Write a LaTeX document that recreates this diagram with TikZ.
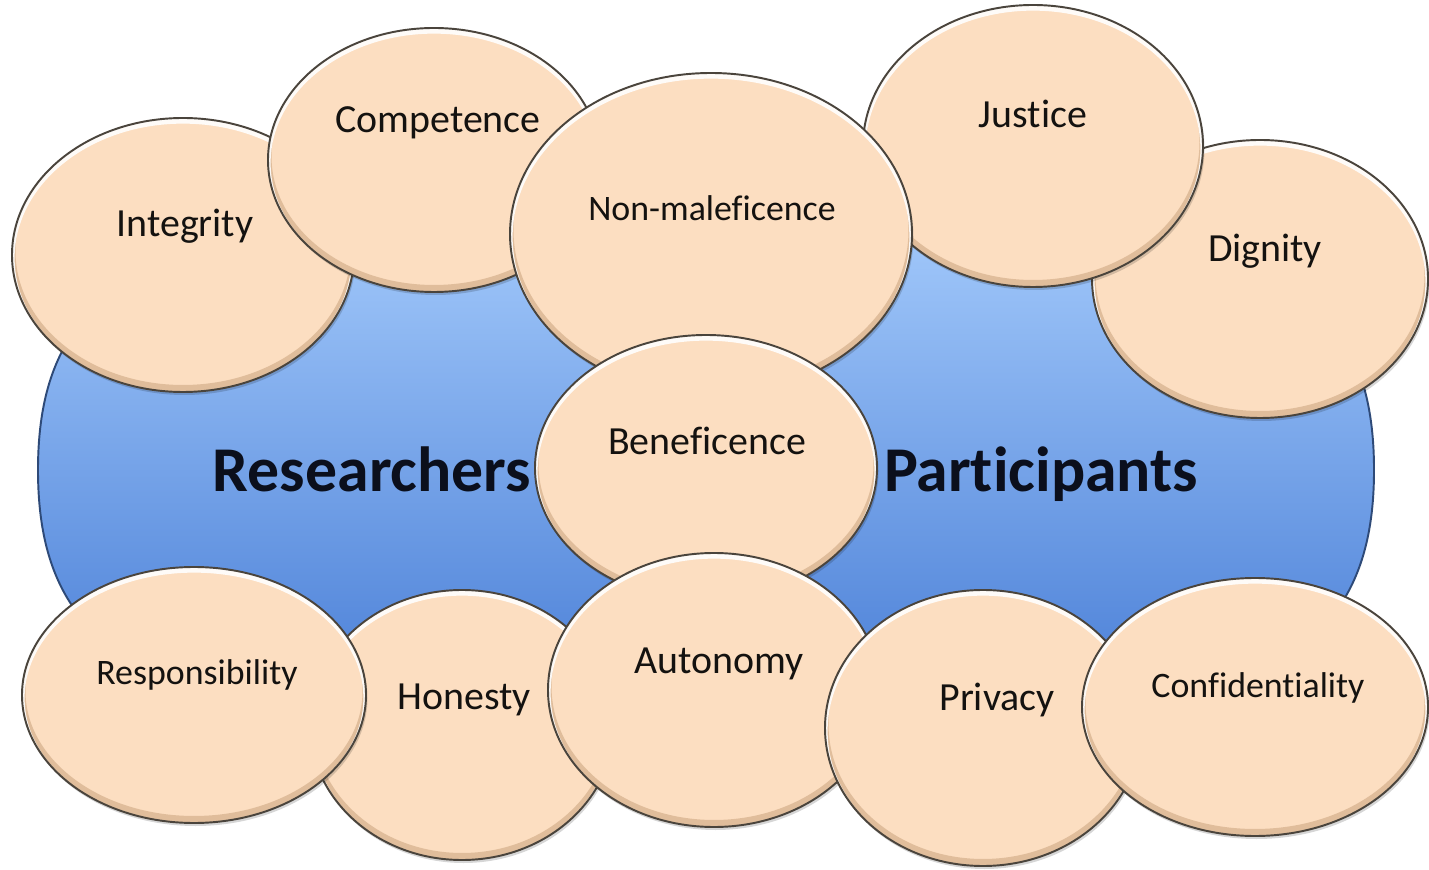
\documentclass[tikz,border=0pt]{standalone}
\usepackage{fontspec}
\setmainfont{Carlito}[Ligatures=NoCommon]
\definecolor{pch}{HTML}{FCDEC1}
\definecolor{pchd}{HTML}{C9A27C}
\definecolor{edgec}{HTML}{4A443C}
\definecolor{bluetop}{HTML}{A6CCFC}
\definecolor{bluebot}{HTML}{4379D4}
\definecolor{bluedge}{HTML}{2E4A78}
\definecolor{txt}{HTML}{141210}
\definecolor{navytxt}{HTML}{0B0F1C}
\tikzset{
  lbl/.style={font=\fontsize{22.7pt}{26pt}\selectfont, text=txt, anchor=base, inner sep=0pt},
  lbls/.style={font=\fontsize{20.4pt}{24pt}\selectfont, text=txt, anchor=base, inner sep=0pt},
  big/.style={font=\bfseries\fontsize{36.3pt}{40pt}\selectfont, text=navytxt, anchor=base, inner sep=0pt},
  rim/.style={draw=edgec, line width=1.1pt},
}
\newcommand\bubble[4]{%
  \fill[black, opacity=0.16, shift={(1.5,-3)}] (#1,#2) ellipse [x radius=#3, y radius=#4];
  \begin{scope}
    \clip (#1,#2) ellipse [x radius=#3, y radius=#4];
    \fill[pch] (#1,#2) ellipse [x radius=#3, y radius=#4];
    \draw[pchd, line width=4pt, opacity=0.55, shift={(0,3.5)}] (#1,#2) ellipse [x radius=#3, y radius=#4];
    \draw[white, line width=3pt, opacity=0.9, shift={(0,-3)}] (#1,#2) ellipse [x radius=#3, y radius=#4];
  \end{scope}
  \draw[rim] (#1,#2) ellipse [x radius=#3, y radius=#4];
}
\begin{document}
\begin{tikzpicture}[x=0.02cm, y=0.02cm]
\useasboundingbox (0,0) rectangle (1429,869);
\fill[white] (0,0) rectangle (1429,869);
% central blue shape
\draw[draw=bluedge, line width=1.1pt, top color=bluetop, bottom color=bluebot]
  (38,399) .. controls (38,609.6) and (185,669) .. (706,669)
  .. controls (1227,669) and (1374,609.6) .. (1374,399)
  .. controls (1374,188.4) and (1227,129) .. (706,129)
  .. controls (185,129) and (38,188.4) .. (38,399) -- cycle;
% bubbles (back to front)
\bubble{183}{614}{171}{137}   % Integrity
\bubble{434}{709}{166}{132}   % Competence
\bubble{1260}{590}{168}{139}  % Dignity
\bubble{1033}{723}{170}{141}  % Justice
\bubble{711}{635}{201}{161}   % Non-maleficence
\bubble{706}{401}{171}{133}   % Beneficence
\bubble{462}{144}{152}{135}   % Honesty
\bubble{194}{174}{172}{128}   % Responsibility
\bubble{714}{179}{166}{137}   % Autonomy
\bubble{983}{141}{158}{138}   % Privacy
\bubble{1255}{162}{173}{129}  % Confidentiality
% labels
\node[lbl]  (tint) at (185,632)  {Integrity};
\node[lbl]  (tcom) at (438,736)  {Competence};
\node[lbls] (tnon) at (712,648)  {Non-maleficence};
\node[lbl]  (tjus) at (1033,741) {Justice};
\node[lbl]  (tdig) at (1265,607) {Dignity};
\node[lbl]  (tben) at (707,414)  {Beneficence};
\node[lbls] (tres) at (197,185)  {Responsibility};
\node[lbl]  (thon) at (464,160)  {Honesty};
\node[lbl]  (taut) at (719,196)  {Autonomy};
\node[lbl]  (tpri) at (997,159)  {Privacy};
\node[lbls] (tcon) at (1258,172) {Confidentiality};
\node[big]  (trs)  at (372,377)  {Researchers};
\node[big]  (tpa)  at (1041,377) {Participants};
\end{tikzpicture}
\end{document}
